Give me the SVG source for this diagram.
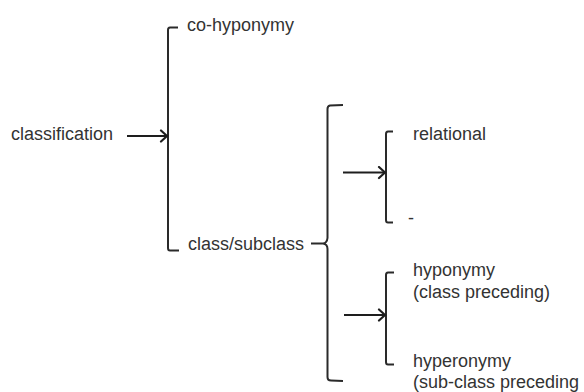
<svg xmlns="http://www.w3.org/2000/svg" width="584" height="392" viewBox="0 0 584 392">
  <defs>
    <marker id="chev" markerUnits="userSpaceOnUse" markerWidth="14" markerHeight="14" refX="11" refY="7" orient="auto">
      <path d="M5,1.5 L11,7 L5,12.5" fill="none" stroke="#1e1e1e" stroke-width="2.2" stroke-linejoin="round" stroke-linecap="round"/>
    </marker>
  </defs>
  <style>
    text { font-family: "Liberation Sans", Arial, sans-serif; font-size: 18px; fill: #333; }
    .br { fill: none; stroke: #2a2a2a; stroke-width: 2; stroke-linejoin: round; }
    .ar { fill: none; stroke: #1e1e1e; stroke-width: 2; }
  </style>
  <rect width="584" height="392" fill="#ffffff"/>

  <g id="connectors">
    <!-- main bracket -->
    <path class="br" d="M178,27.5 L170,27.5 Q168,27.5 168,30 L168,248 Q168,250.5 170,250.5 L179,250.5"/>
    <!-- second (curly) bracket -->
    <path class="br" d="M343,105 L330,105.5 Q327.5,106 327.5,109 L327.5,238 Q327,243 323,243.5 L311,243.5 M323,243.5 Q327.5,244 327.5,249 L327.5,377 Q327.5,380.5 331,380.5 L343,381"/>
    <!-- upper small bracket -->
    <path class="br" d="M393,131.5 L388,131.5 Q386,131.5 386,134 L386,220 Q386,222.5 388,222.5 L393,222.5"/>
    <!-- lower small bracket -->
    <path class="br" d="M394,272.5 L388,272.5 Q386,272.5 386,275 L386,362 Q386,364.5 388,364.5 L394,364.5"/>
    <!-- arrows -->
    <line class="ar" x1="127" y1="136" x2="167" y2="136" marker-end="url(#chev)"/>
    <line class="ar" x1="343" y1="172.5" x2="385" y2="172.5" marker-end="url(#chev)"/>
    <line class="ar" x1="344" y1="315" x2="385" y2="315" marker-end="url(#chev)"/>
  </g>

  <g id="classification"><text x="11" y="140">classification</text></g>
  <g id="co-hyponymy"><text x="187" y="31">co-hyponymy</text></g>
  <g id="class-subclass"><text x="188" y="250">class/subclass</text></g>
  <g id="relational"><text x="413" y="140">relational</text></g>
  <g id="dash"><text x="408" y="224">-</text></g>
  <g id="hyponymy"><text x="413" y="276">hyponymy</text><text x="413" y="298">(class preceding)</text></g>
  <g id="hyperonymy"><text x="413" y="367">hyperonymy</text><text x="413" y="388">(sub-class preceding</text></g>
</svg>
